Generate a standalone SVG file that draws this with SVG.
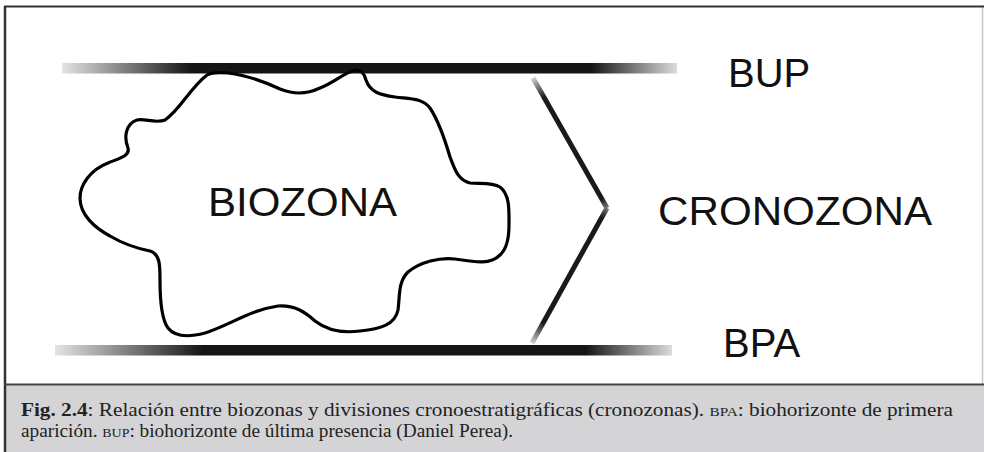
<svg xmlns="http://www.w3.org/2000/svg" width="984" height="452" viewBox="0 0 984 452">
  <style>
    .lbl { font-family: "Liberation Sans", Arial, sans-serif; fill: #111; }
    .cap { font-family: "Liberation Serif", "Times New Roman", serif; fill: #222; font-size: 18px; }
    .sc { font-size: 13px; }
  </style>
  <defs>
    <linearGradient id="barTop" gradientUnits="userSpaceOnUse" x1="62" y1="0" x2="677" y2="0">
      <stop offset="0" stop-color="#e4e4e4"/>
      <stop offset="0.21" stop-color="#151515"/>
      <stop offset="0.86" stop-color="#151515"/>
      <stop offset="1" stop-color="#dcdcdc"/>
    </linearGradient>
    <linearGradient id="barBot" gradientUnits="userSpaceOnUse" x1="55" y1="0" x2="672" y2="0">
      <stop offset="0" stop-color="#e4e4e4"/>
      <stop offset="0.24" stop-color="#151515"/>
      <stop offset="0.86" stop-color="#151515"/>
      <stop offset="1" stop-color="#dcdcdc"/>
    </linearGradient>
    <linearGradient id="chevTop" gradientUnits="userSpaceOnUse" x1="533" y1="78" x2="607" y2="208">
      <stop offset="0" stop-color="#cfcfcf"/>
      <stop offset="0.15" stop-color="#1a1a1a"/>
      <stop offset="0.93" stop-color="#1a1a1a"/>
      <stop offset="1" stop-color="#777"/>
    </linearGradient>
    <linearGradient id="chevBot" gradientUnits="userSpaceOnUse" x1="607" y1="208" x2="532" y2="343">
      <stop offset="0" stop-color="#777"/>
      <stop offset="0.07" stop-color="#1a1a1a"/>
      <stop offset="0.85" stop-color="#1a1a1a"/>
      <stop offset="1" stop-color="#cfcfcf"/>
    </linearGradient>
  </defs>

  <!-- frame -->
  <rect x="0" y="0" width="984" height="452" fill="#ffffff"/>
  <rect x="5" y="385" width="979" height="67" fill="#d4d4d6"/>
  <line x1="982.5" y1="7" x2="982.5" y2="384" stroke="#c8c8c8" stroke-width="1.5"/>
  <line x1="4" y1="6.5" x2="984" y2="6.5" stroke="#333" stroke-width="2"/>
  <line x1="5" y1="6" x2="5" y2="452" stroke="#333" stroke-width="2.5"/>
  <line x1="4" y1="384.5" x2="984" y2="384.5" stroke="#444" stroke-width="2"/>

  <!-- horizons -->
  <g id="bup-bar">
    <rect x="62" y="63" width="615" height="10.5" fill="url(#barTop)"/>
  </g>
  <g id="bpa-bar">
    <rect x="55" y="345" width="617" height="10.5" fill="url(#barBot)"/>
  </g>

  <g id="biozona">
    <path d="M 207,75
      C 190,88 180,110 165,120
      C 155,124 145,118 137,120
      C 125,124 124,138 128,148
      C 130,156 120,158 108,163
      C 90,170 80,185 80,198
      C 80,215 95,228 110,236
      C 125,245 140,249 150,251
      C 160,254 160,265 160,280
      C 160,300 162,320 168,328
      C 175,337 190,337 205,333
      C 230,325 250,310 278,306
      C 295,305 305,312 315,321
      C 328,331 345,333 360,331
      C 380,329 395,325 398,310
      C 400,295 398,282 408,272
      C 420,262 440,257 455,259
      C 475,262 490,265 500,255
      C 508,248 509,235 509,225
      C 509,210 510,195 500,187
      C 492,182 480,184 470,183
      C 458,180 455,170 450,157
      C 445,140 438,120 430,108
      C 422,98 410,99 395,97
      C 380,95 370,92 366,80
      C 364,72 360,70 356,70
      C 345,72 335,82 320,88
      C 305,95 293,94 280,89
      C 265,82 245,75 228,73
      C 218,72 212,72 207,75 Z" fill="none" stroke="#000" stroke-width="3.2"/>
    <text class="lbl" x="208" y="216" font-size="41" textLength="189" lengthAdjust="spacingAndGlyphs">BIOZONA</text>
  </g>

  <g id="cronozona">
    <line x1="533" y1="78" x2="607" y2="208" stroke="url(#chevTop)" stroke-width="5"/>
    <line x1="607" y1="208" x2="532" y2="343" stroke="url(#chevBot)" stroke-width="5"/>
    <text class="lbl" x="658" y="225" font-size="40" textLength="274" lengthAdjust="spacingAndGlyphs">CRONOZONA</text>
  </g>

  <g id="bup-label">
    <text class="lbl" x="728" y="87" font-size="40">BUP</text>
  </g>
  <g id="bpa-label">
    <text class="lbl" x="723" y="357" font-size="40">BPA</text>
  </g>

  <g id="caption">
    <text class="cap" x="21" y="416" textLength="932" lengthAdjust="spacingAndGlyphs"><tspan font-weight="bold">Fig. 2.4</tspan>: Relación entre biozonas y divisiones cronoestratigráficas (cronozonas). <tspan class="sc">BPA</tspan>: biohorizonte de primera</text>
    <text class="cap" x="21" y="437" textLength="492" lengthAdjust="spacingAndGlyphs">aparición. <tspan class="sc">BUP</tspan>: biohorizonte de última presencia (Daniel Perea).</text>
  </g>
</svg>
